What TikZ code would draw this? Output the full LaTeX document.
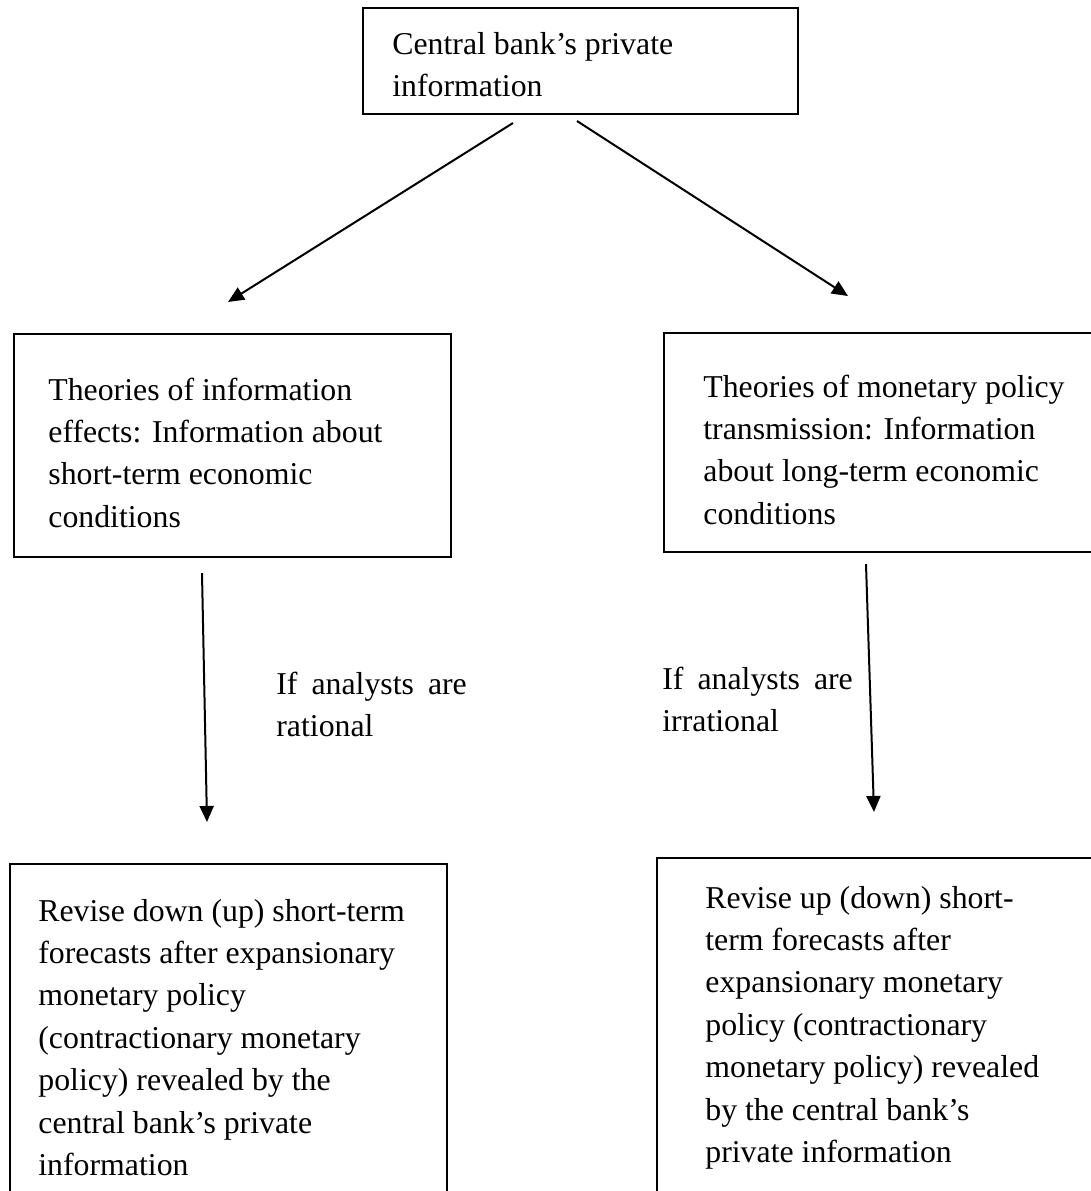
\documentclass[tikz,border=0pt]{standalone}
\usepackage{fontspec}
\setmainfont{Liberation Serif}
\usetikzlibrary{arrows.meta}
\begin{document}
\begin{tikzpicture}[x=0.5pt,y=-0.5pt,
  box/.style={draw,line width=1pt,rectangle,inner sep=0pt,anchor=north west},
  txt/.style={inner sep=0pt,anchor=north west,align=left,font=\fontsize{15.9pt}{21.2pt}\selectfont},
  arr/.style={line width=1pt,-{Triangle[length=8pt,width=7pt]}}]
\useasboundingbox (0,0) rectangle (1091,1191);
\clip (0,0) rectangle (1091,1191);
% boxes
\node[box,minimum width=217.5pt,minimum height=53pt] (topbox) at (362,7) {};
\node[box,minimum width=218.5pt,minimum height=111.5pt] (leftbox) at (13,333) {};
\node[box,minimum width=218.5pt,minimum height=109.5pt] (rightbox) at (663,332) {};
\node[box,minimum width=218.5pt,minimum height=180pt] (blbox) at (9,863) {};
\node[box,minimum width=218.5pt,minimum height=182pt] (brbox) at (656,857) {};
% texts
\node[txt] (toptext) at (392,24) {\strut Central bank’s private\\information};
\node[txt] (lefttext) at (48,370) {\strut Theories of information\\effects: Information about\\short-term economic\\conditions};
\node[txt] (righttext) at (703,367) {\strut Theories of monetary policy\\transmission: Information\\about long-term economic\\conditions};
\node[txt] (bltext) at (38,891) {\strut Revise down (up) short-term\\forecasts after expansionary\\monetary policy\\(contractionary monetary\\policy) revealed by the\\central bank’s private\\information};
\node[txt] (brtext) at (705,878) {\strut Revise up (down) short-\\term forecasts after\\expansionary monetary\\policy (contractionary\\monetary policy) revealed\\by the central bank’s\\private information};
\node[txt] (lablft) at (276,664) {\strut If\hspace{7pt}analysts\hspace{7pt}are\\rational};
\node[txt] (labrgt) at (662,659) {\strut If\hspace{7pt}analysts\hspace{7pt}are\\irrational};
% connector end points
\coordinate (a1s) at (513,123);
\coordinate (a1e) at (228,302);
\coordinate (a2s) at (577,121);
\coordinate (a2e) at (848,296);
\coordinate (a3s) at (202,573);
\coordinate (a3e) at (207,822);
\coordinate (a4s) at (866,564);
\coordinate (a4e) at (874,812);
\draw[arr] (a1s) -- (a1e);
\draw[arr] (a2s) -- (a2e);
\draw[arr] (a3s) -- (a3e);
\draw[arr] (a4s) -- (a4e);
\end{tikzpicture}
\end{document}
